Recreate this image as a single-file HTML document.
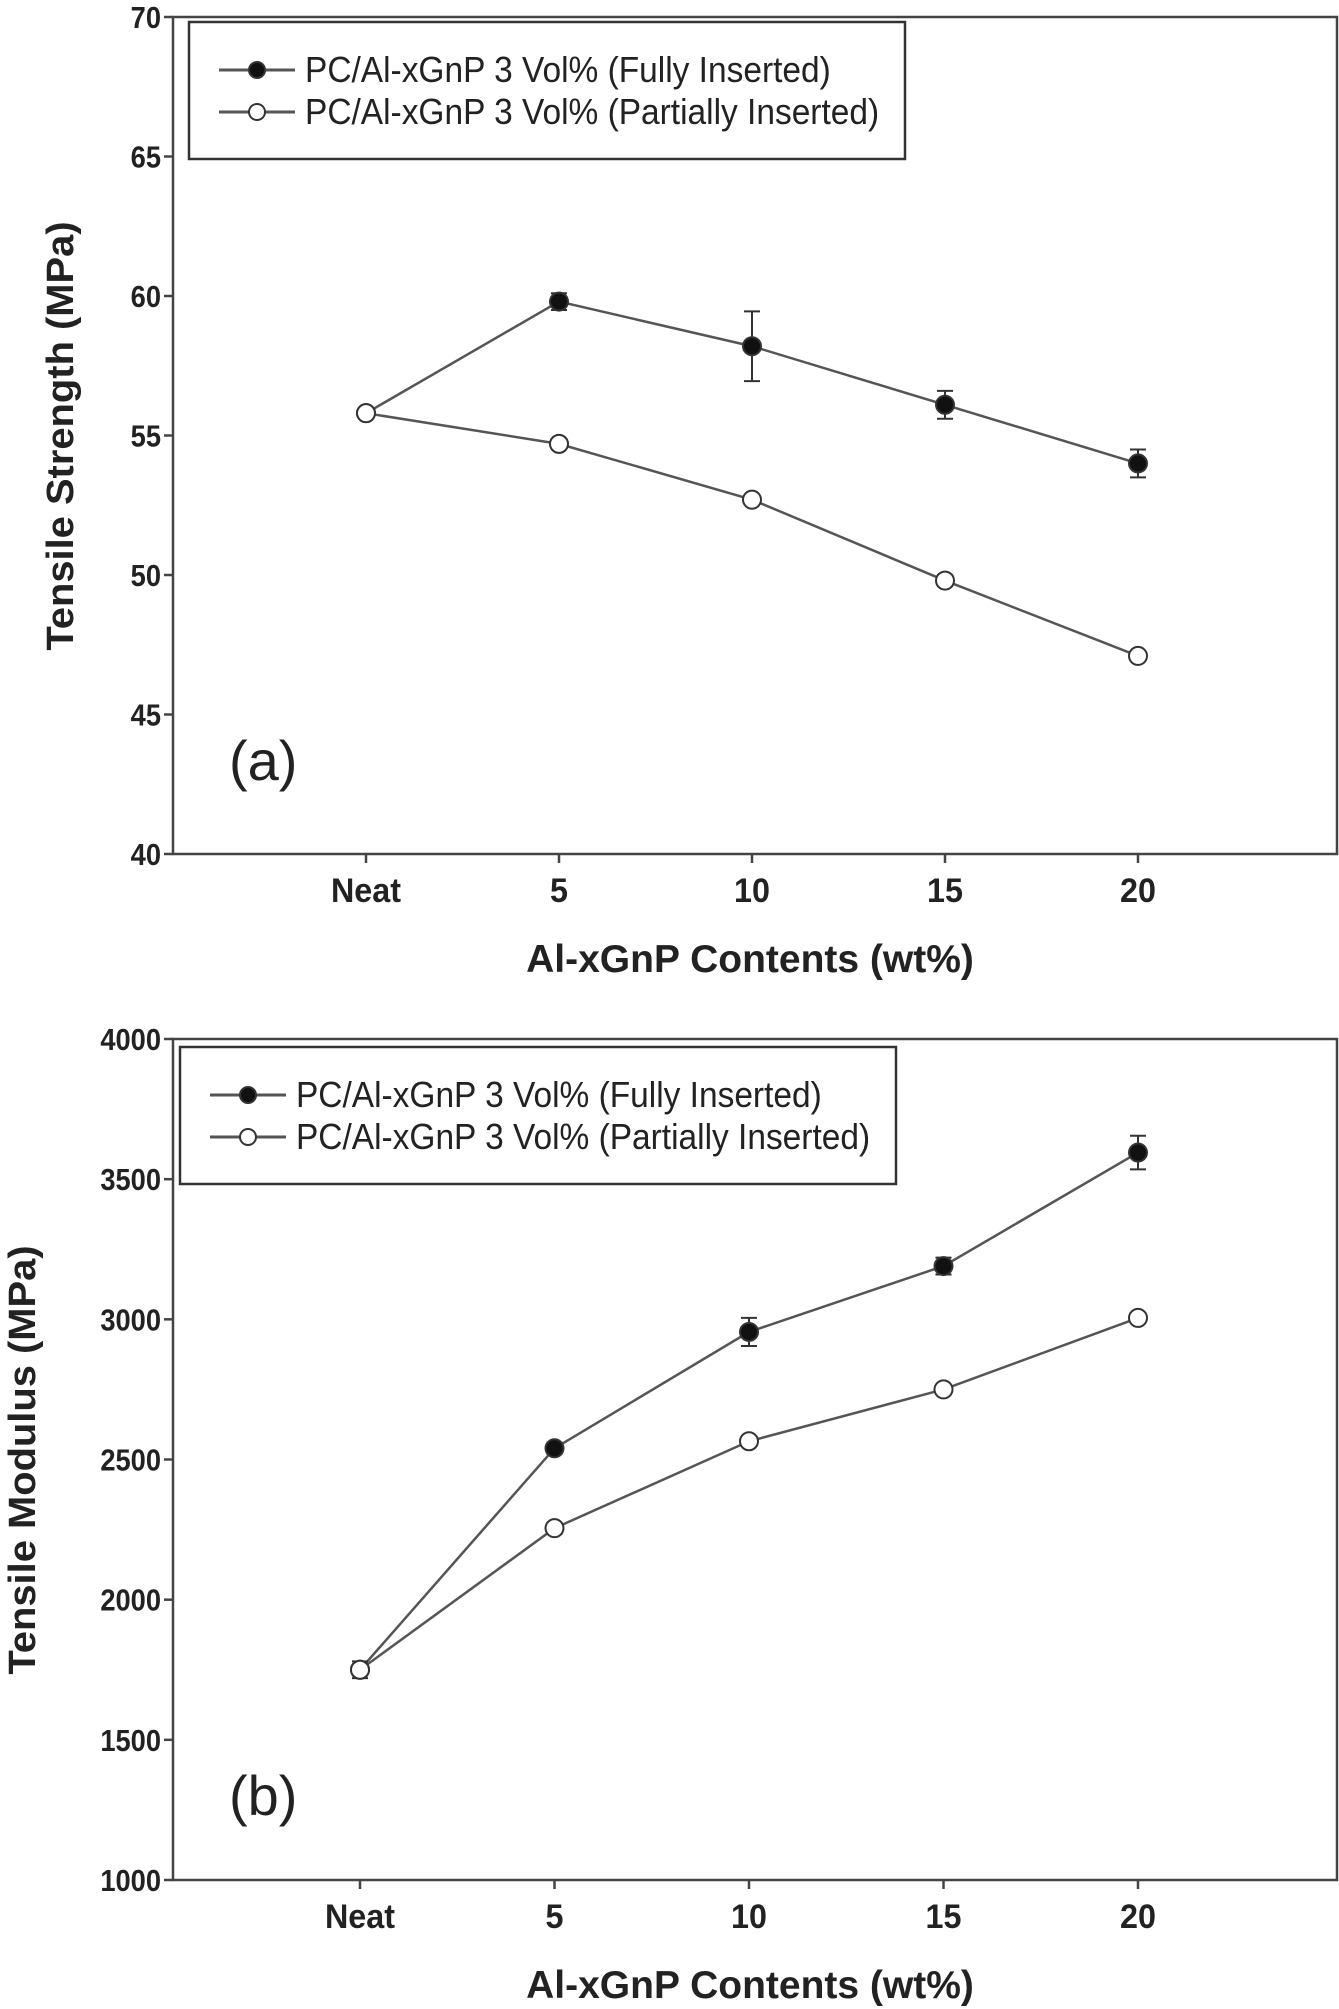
<!DOCTYPE html>
<html><head><meta charset="utf-8"><style>
html,body{margin:0;padding:0;background:#fff;}
svg{display:block;}
text{font-family:"Liberation Sans",Arial,sans-serif;}
</style></head><body>
<svg id="chart" width="1339" height="2009" viewBox="0 0 1339 2009" xmlns="http://www.w3.org/2000/svg"></svg>
<script>
const categories = ["Neat","5","10","15","20"];
const strengthFully = [55.8, 59.8, 58.2, 56.1, 54.0];
const strengthFullyErr = [0.1, 0.3, 1.25, 0.5, 0.5];
const strengthPartial = [55.8, 54.7, 52.7, 49.8, 47.1];
const strengthPartialErr = [0.1, 0.1, 0.1, 0.2, 0.1];
const strengthTicks = [40,45,50,55,60,65,70];
const modulusFully = [1750, 2540, 2955, 3190, 3595];
const modulusFullyErr = [30, 20, 50, 30, 60];
const modulusPartial = [1750, 2255, 2565, 2750, 3005];
const modulusPartialErr = [20, 20, 15, 15, 15];
const modulusTicks = [1000,1500,2000,2500,3000,3500,4000];

const NS = "http://www.w3.org/2000/svg";
const svg = document.getElementById('chart');
function el(tag, attrs, parent, txt){
  const e = document.createElementNS(NS, tag);
  for (const k in attrs) e.setAttribute(k, attrs[k]);
  if (txt !== undefined) e.textContent = txt;
  (parent||svg).appendChild(e);
  return e;
}
function panel(cfg){
  const g = el('g', {});
  
  
  const L=cfg.left, R=cfg.right, T=cfg.top, B=cfg.bottom;
  const ymin=cfg.ticks[0], ymax=cfg.ticks[cfg.ticks.length-1];
  const y = v => B - (v-ymin)/(ymax-ymin)*(B-T);
  const x = i => cfg.x0 + i*cfg.dx;
  const frame = el('rect', {x:L,y:T,width:R-L,height:B-T,fill:'none',stroke:'#444','stroke-width':2.5}, g);
  
  
  cfg.ticks.forEach(t=>{
    const ln = el('line',{x1:L-9,x2:L,y1:y(t),y2:y(t),stroke:'#444','stroke-width':2.5},g);
    
    
    const tx = el('text',{x:L-12,y:y(t)+11,'text-anchor':'end','font-size':31,'font-weight':'bold',fill:'#222',transform:`translate(${L-12},0) scale(0.88,1) translate(${-(L-12)},0)`},g,String(t));
    
    
  });
  categories.forEach((c,i)=>{
    const ln = el('line',{x1:x(i),x2:x(i),y1:B,y2:B+9,stroke:'#444','stroke-width':2.5},g);
    
    
    const tx = el('text',{x:x(i),y:B+48,'text-anchor':'middle','font-size':34,'font-weight':'bold',fill:'#222',transform:`translate(${x(i)},0) scale(0.95,1) translate(${-x(i)},0)`},g,c);
    
    
  });
  const xt = el('text',{x:750,y:cfg.xTitleY,'text-anchor':'middle','font-size':39,'font-weight':'bold',fill:'#222'},g,'Al-xGnP Contents (wt%)');
  
  
  const yt = el('text',{x:0,y:0,'text-anchor':'middle','font-size':38,'font-weight':'bold',fill:'#222',transform:`translate(${cfg.yTitleX},${cfg.yTitleY}) rotate(-90) scale(1.05,1)`},g,cfg.yTitle);
  
  
  const lab = el('text',{x:cfg.labX,y:cfg.labY,'font-size':56,fill:'#222'},g,cfg.label);
  
  
  function series(vals, errs, filled, nm){
    const sg = el('g',{},g);
    
    
    const pts = vals.map((v,i)=>x(i)+','+y(v)).join(' ');
    const pl = el('polyline',{points:pts,fill:'none',stroke:'#555','stroke-width':2.5},sg);
    
    
    vals.forEach((v,i)=>{
      const e=errs[i];
      const eb = el('path',{d:`M${x(i)},${y(v-e)}V${y(v+e)}M${x(i)-8},${y(v-e)}h16M${x(i)-8},${y(v+e)}h16`,stroke:'#333','stroke-width':2,fill:'none'},sg);
      
      
      const c = el('circle',{cx:x(i),cy:y(v),r:9,fill:filled?'#111':'#fff',stroke:'#333','stroke-width':2},sg);
      
      
    });
  }
  series(cfg.full, cfg.fullErr, true, 'series-fully-inserted');
  series(cfg.part, cfg.partErr, false, 'series-partially-inserted');
  const lg = el('g',{},g);
  
  
  const lb = el('rect',{x:cfg.legX,y:cfg.legY,width:716,height:137,fill:'#fff',stroke:'#333','stroke-width':2.5},lg);
  
  
  [['PC/Al-xGnP 3 Vol% (Fully Inserted)',true],['PC/Al-xGnP 3 Vol% (Partially Inserted)',false]].forEach((d,k)=>{
    const ry = cfg.legY + 48 + k*42;
    const eg = el('g',{},lg);
    
    
    el('line',{x1:cfg.legX+30,x2:cfg.legX+106,y1:ry,y2:ry,stroke:'#555','stroke-width':3},eg);
    el('circle',{cx:cfg.legX+68,cy:ry,r:8,fill:d[1]?'#111':'#fff',stroke:'#333','stroke-width':2},eg);
    el('text',{x:cfg.legX+116,y:ry+12,'font-size':36,fill:'#222',transform:`translate(${cfg.legX+116},0) scale(0.93,1) translate(${-(cfg.legX+116)},0)`},eg,d[0]);
  });
}
panel({name:'panel-a-tensile-strength',left:173,right:1337,top:17,bottom:854,x0:366,dx:193,ticks:strengthTicks,
  full:strengthFully,fullErr:strengthFullyErr,part:strengthPartial,partErr:strengthPartialErr,
  yTitle:'Tensile Strength (MPa)',yTitleX:73,yTitleY:436,xTitleY:972,label:'(a)',labX:229,labY:780,legX:189,legY:22});
panel({name:'panel-b-tensile-modulus',left:173,right:1337,top:1039,bottom:1880,x0:360,dx:194.5,ticks:modulusTicks,
  full:modulusFully,fullErr:modulusFullyErr,part:modulusPartial,partErr:modulusPartialErr,
  yTitle:'Tensile Modulus (MPa)',yTitleX:35,yTitleY:1460,xTitleY:1998,label:'(b)',labX:229,labY:1815,legX:180,legY:1047});
</script>
</body></html>
